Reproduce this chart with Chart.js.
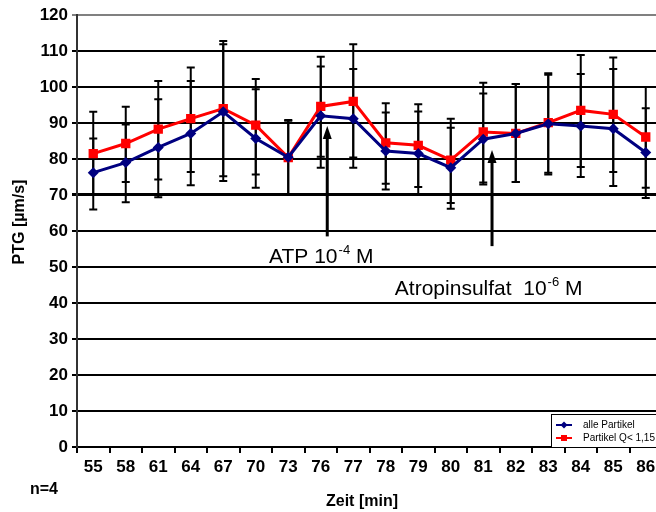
<!DOCTYPE html>
<html><head><meta charset="utf-8">
<script src="https://cdn.jsdelivr.net/npm/chart.js@4/dist/chart.umd.min.js"></script>
<style>
html,body{margin:0;padding:0;overflow:hidden;background:#fff;width:656px;height:512px}
#wrap{position:absolute;left:0;top:0;width:672px;height:512px}
</style>
</head><body><div id="wrap"><canvas id="c" width="672" height="512"></canvas></div>
<script>
// ---- data ----
const categories = ['55','58','61','64','67','70','73','76','77','78','79','80','81','82','83','84','85','86'];
const seriesNames = ['alle Partikel', 'Partikel Q< 1,15'];
const allePartikel = [76.2,79.0,83.2,87.1,93.1,85.7,80.5,92.0,91.2,82.2,81.5,77.6,85.5,87.1,89.8,89.2,88.4,81.8];
const partikelQ    = [81.5,84.3,88.3,91.2,94.0,89.4,80.4,94.6,96.0,84.5,83.8,79.7,87.5,87.1,90.1,93.5,92.4,86.1];
const alleUpper = [85.7,89.6,96.6,101.7,111.9,99.4,90.8,105.7,105.0,92.9,93.2,88.7,98.2,100.8,103.4,103.6,105.0,94.1];
const alleLower = [66.0,68.0,69.4,72.7,73.9,72.0,70.3,77.6,77.6,71.5,70.2,66.2,72.9,73.6,76.2,75.0,72.5,69.2];
const qUpper    = [93.1,94.5,101.7,105.4,112.8,102.2,90.6,108.4,111.9,95.5,95.2,91.2,101.2,100.8,103.8,108.9,108.2,100.0];
const qLower    = [70.2,73.6,74.3,76.4,75.2,75.7,70.2,80.6,80.4,73.1,72.2,67.8,73.5,73.6,75.7,77.8,76.4,72.0];
const yMin = 0, yMax = 120, yStep = 10;
const yTitle = 'PTG [µm/s]';
const xTitle = 'Zeit [min]';
const noteN = 'n=4';
// annotations (in data coordinates: category index, value)
const arrows = [
  {x: 7.2, from: 58.5, to: 89.2},
  {x: 12.27, from: 55.8, to: 82.5}
];
const notes = [
  {x: 5.41, y: 51.2, base: 'ATP 10', sup: '-4', tail: ' M'},
  {x: 9.28, y: 42.3, base: 'Atropinsulfat  10', sup: '-6', tail: ' M'}
];

const FONT = '"Liberation Sans", Arial, sans-serif';
const errorSets = [[alleUpper, alleLower], [qUpper, qLower]];

const errorBars = {
  id: 'errorBars',
  beforeDatasetsDraw(chart) {
    const ctx = chart.ctx, ys = chart.scales.y;
    ctx.save();
    ctx.strokeStyle = '#000';
    chart.data.datasets.forEach((ds, i) => {
      const meta = chart.getDatasetMeta(i);
      const [up, lo] = errorSets[i];
      meta.data.forEach((pt, j) => {
        const x = pt.x, yu = ys.getPixelForValue(up[j]), yl = ys.getPixelForValue(lo[j]);
        ctx.lineWidth = 2;
        ctx.beginPath(); ctx.moveTo(x, yu); ctx.lineTo(x, yl); ctx.stroke();
        ctx.beginPath();
        ctx.moveTo(x - 4, yu); ctx.lineTo(x + 4, yu);
        ctx.moveTo(x - 4, yl); ctx.lineTo(x + 4, yl);
        ctx.stroke();
      });
    });
    ctx.restore();
  }
};

const extras = {
  id: 'extras',
  afterDraw(chart) {
    const ctx = chart.ctx, xs = chart.scales.x, ys = chart.scales.y;
    ctx.save();
    // arrows
    ctx.fillStyle = '#000'; ctx.strokeStyle = '#000';
    arrows.forEach(a => {
      const x = xs.getPixelForValue(a.x), y0 = ys.getPixelForValue(a.from), y1 = ys.getPixelForValue(a.to);
      ctx.lineWidth = 3;
      ctx.beginPath(); ctx.moveTo(x, y0); ctx.lineTo(x, y1 + 10); ctx.stroke();
      ctx.beginPath(); ctx.moveTo(x, y1); ctx.lineTo(x - 4.5, y1 + 13); ctx.lineTo(x + 4.5, y1 + 13); ctx.closePath(); ctx.fill();
    });
    // notes
    ctx.textBaseline = 'alphabetic'; ctx.textAlign = 'left';
    notes.forEach(n => {
      let x = xs.getPixelForValue(n.x); const y = ys.getPixelForValue(n.y);
      ctx.font = '21px ' + FONT; ctx.fillText(n.base, x, y); x += ctx.measureText(n.base).width + 1;
      ctx.font = '13px ' + FONT; ctx.fillText(n.sup, x, y - 9); x += ctx.measureText(n.sup).width;
      ctx.font = '21px ' + FONT; ctx.fillText(n.tail, x, y);
    });
    // axis titles
    ctx.font = 'bold 16px ' + FONT;
    ctx.textAlign = 'center'; ctx.textBaseline = 'middle';
    ctx.save(); ctx.translate(20, 222); ctx.rotate(-Math.PI / 2); ctx.fillText(yTitle, 0, 0); ctx.restore();
    ctx.fillText(xTitle, 362, 502);
    ctx.textAlign = 'left';
    ctx.fillText(noteN, 30, 490);
    // legend
    const lx = 551, ly = 414, lw = 125, lh = 33;
    ctx.fillStyle = '#fff'; ctx.fillRect(lx, ly, lw, lh);
    ctx.strokeStyle = '#000'; ctx.lineWidth = 1; ctx.strokeRect(lx + 0.5, ly + 0.5, lw, lh);
    chart.data.datasets.forEach((ds, i) => {
      const yy = ly + 11 + i * 13;
      ctx.strokeStyle = ds.borderColor; ctx.lineWidth = 2;
      ctx.beginPath(); ctx.moveTo(556, yy); ctx.lineTo(572, yy); ctx.stroke();
      ctx.fillStyle = ds.backgroundColor;
      if (i === 0) { ctx.beginPath(); ctx.moveTo(564, yy - 3.5); ctx.lineTo(567.5, yy); ctx.lineTo(564, yy + 3.5); ctx.lineTo(560.5, yy); ctx.closePath(); ctx.fill(); }
      else { ctx.fillRect(561, yy - 3, 6, 6); }
      ctx.fillStyle = '#000'; ctx.font = '10px ' + FONT; ctx.textAlign = 'left'; ctx.textBaseline = 'middle';
      ctx.fillText(ds.label, 583, yy + 0.5);
    });
    ctx.restore();
  }
};

new Chart(document.getElementById('c'), {
  type: 'line',
  data: {
    labels: categories,
    datasets: [
      {label: seriesNames[0], data: allePartikel, borderColor: '#000080', backgroundColor: '#000080',
       borderWidth: 3, pointStyle: 'rectRot', pointRadius: 5.5, pointBorderWidth: 0, tension: 0},
      {label: seriesNames[1], data: partikelQ, borderColor: '#ff0000', backgroundColor: '#ff0000',
       borderWidth: 3, pointStyle: 'rect', pointRadius: 6.6, pointBorderWidth: 0, tension: 0}
    ]
  },
  options: {
    responsive: false, animation: false, devicePixelRatio: 1,
    layout: {padding: {top: 15, right: 10, left: 0, bottom: 0}},
    plugins: {legend: {display: false}, tooltip: {enabled: false}, title: {display: false}},
    scales: {
      x: {
        offset: true,
        grid: {offset: true, drawOnChartArea: false, drawTicks: true, tickLength: 6, color: '#000', lineWidth: 2},
        border: {color: '#000', width: 2},
        ticks: {color: '#000', font: {family: FONT, size: 17, weight: 'bold'}, padding: 4, maxRotation: 0, autoSkip: false},
        afterFit(s) { s.height = 65; }
      },
      y: {
        min: yMin, max: yMax,
        grid: {color: (c) => c.tick && c.tick.value === yMax ? '#808080' : '#000',
               lineWidth: (c) => c.tick && c.tick.value === 70 ? 3 : 2, tickLength: 5},
        border: {color: '#333', width: 2},
        ticks: {stepSize: yStep, color: '#000', font: {family: FONT, size: 17, weight: 'bold'}, padding: 4},
        afterFit(s) { s.width = 77; }
      }
    }
  },
  plugins: [errorBars, extras]
});
</script>
</body></html>
